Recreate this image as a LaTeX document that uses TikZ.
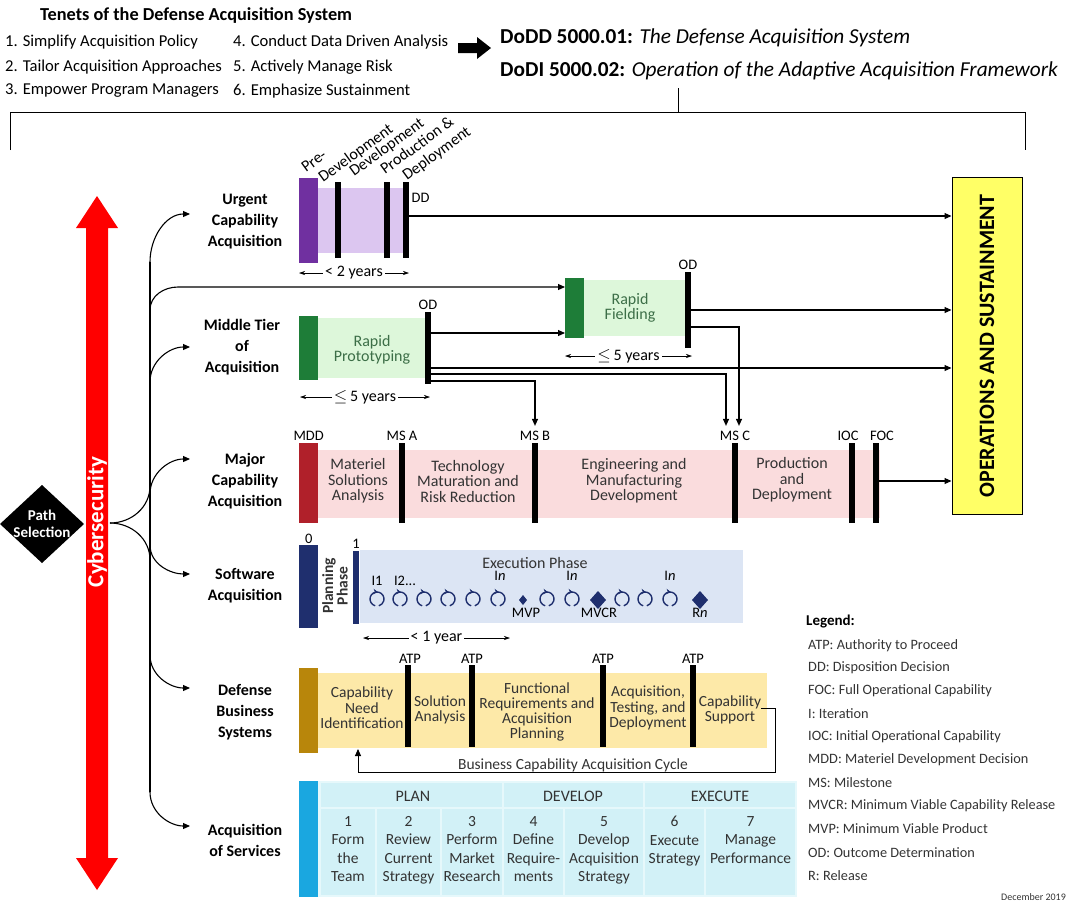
\documentclass[tikz,border=0pt]{standalone}
\usepackage{fontspec}
\setmainfont{Carlito}
\usetikzlibrary{arrows.meta,decorations.markings,positioning}
\newcommand\fsz[2]{\fontsize{#1}{#2}\selectfont}
\definecolor{ucaDark}{HTML}{7030A0}
\definecolor{ucaLight}{HTML}{DCC6F0}
\definecolor{mtaDark}{HTML}{1E7D38}
\definecolor{mtaLight}{HTML}{DDF7DA}
\definecolor{mtaText}{HTML}{3C6E47}
\definecolor{mcaDark}{HTML}{B0202A}
\definecolor{mcaLight}{HTML}{FADCDD}
\definecolor{swDark}{HTML}{1F2F6E}
\definecolor{swLight}{HTML}{DCE5F4}
\definecolor{dbsDark}{HTML}{B8860B}
\definecolor{dbsLight}{HTML}{FDE9A8}
\definecolor{svcDark}{HTML}{1AA7E0}
\definecolor{svcBack}{HTML}{E6F8FB}
\definecolor{svcCell}{HTML}{D2F1F7}
\definecolor{osYellow}{HTML}{FFFF66}
\definecolor{cyberRed}{HTML}{FF0000}
\definecolor{txtGray}{HTML}{333333}
\begin{document}
\begin{tikzpicture}[x=1pt,y=-1pt,
  conn/.style={line width=1.1pt},
  conna/.style={line width=1.1pt,-{Triangle[length=7pt,width=6pt]}},
  dimarr/.style={line width=0.6pt,{Stealth[length=6pt,width=4pt]}-{Stealth[length=6pt,width=4pt]}},
  rowlbl/.style={font=\bfseries\fsz{16}{21}, align=center, inner sep=0},
  phtext/.style={font=\fsz{16}{15.5}, align=center, inner sep=0, text=txtGray},
  mslbl/.style={font=\fsz{14.5}{14}, inner sep=0.5pt},
  msbar/.style={fill=black, minimum width=6pt, inner sep=0},
  stage/.style={inner sep=0, anchor=north west, minimum width=19pt},
  dimtxt/.style={font=\fsz{16}{16}, fill=white, inner xsep=2pt, inner ysep=0},
  slant/.style={rotate=36, anchor=base west, font=\fsz{16}{16}, inner sep=0},
  legitem/.style={anchor=west, font=\fsz{14.3}{14}, inner sep=0, text=txtGray},
  iter/.style={swDark, line width=1.4pt, postaction={decorate},
    decoration={markings, mark=at position 0.52 with {\arrow{Stealth[length=4.5pt,width=5.5pt]}}}},
]
\useasboundingbox (0,0) rectangle (1072,906);

% ---------- header ----------
\node[anchor=west, font=\bfseries\fsz{18.3}{18}, inner sep=0] (tenets) at (40,15) {Tenets of the Defense Acquisition System};
\node[anchor=west, font=\fsz{16.6}{16}, inner sep=0] (t1) at (5,42) {1. Simplify Acquisition Policy};
\node[anchor=west, font=\fsz{16.6}{16}, inner sep=0] (t2) at (5,67) {2. Tailor Acquisition Approaches};
\node[anchor=west, font=\fsz{16.6}{16}, inner sep=0] (t3) at (5,91) {3. Empower Program Managers};
\node[anchor=west, font=\fsz{16.6}{16}, inner sep=0] (t4) at (233,42) {4. Conduct Data Driven Analysis};
\node[anchor=west, font=\fsz{16.6}{16}, inner sep=0] (t5) at (233,67) {5. Actively Manage Risk};
\node[anchor=west, font=\fsz{16.6}{16}, inner sep=0] (t6) at (233,91) {6. Emphasize Sustainment};
% block arrow
\fill (458,43) -- (477,43) -- (477,37) -- (491,48) -- (477,59) -- (477,53) -- (458,53) -- cycle;
\node[anchor=west, font=\fsz{21.3}{21}, inner sep=0] (dodd) at (500,38) {\textbf{DoDD 5000.01:} \textit{The Defense Acquisition System}};
\node[anchor=west, font=\fsz{21.3}{21}, inner sep=0] (dodi) at (500,71) {\textbf{DoDI 5000.02:} \textit{Operation of the Adaptive Acquisition Framework}};
% bracket
\coordinate (brTop) at (678,88);
\coordinate (brMid) at (678,112);
\draw[line width=0.9pt] (brTop) -- (brMid);
\draw[line width=0.9pt] (10,150) -- (10,112) -- (1025,112) -- (1025,150);

% ---------- cybersecurity arrow and path selection ----------
\fill[cyberRed] (97,196) -- (118,228) -- (108,228) -- (108,858) -- (118,858) -- (97,890)
  -- (76,858) -- (86,858) -- (86,228) -- (76,228) -- cycle;
\node[rotate=90, text=white, font=\bfseries\fsz{23}{23}, inner sep=0] (cyber) at (97,522) {Cybersecurity};
\fill (0,524) -- (42,485) -- (84,524) -- (42,563) -- cycle;
\node[text=white, font=\bfseries\fsz{15}{17}, align=center, inner sep=0] (path) at (42,524) {Path\\Selection};

% ---------- row labels ----------
\node[rowlbl] (urg) at (245,222) {Urgent\\Capability\\Acquisition};
\node[rowlbl] (mta) at (242,347) {Middle Tier\\of\\Acquisition};
\node[rowlbl] (mca) at (245,481) {Major\\Capability\\Acquisition};
\node[rowlbl] (swa) at (245,586) {Software\\Acquisition};
\node[rowlbl] (dbs) at (245,712) {Defense\\Business\\Systems};
\node[rowlbl] (svc) at (245,840) {Acquisition\\of Services};

% ---------- branching tree ----------
\coordinate (fork) at (110,523);
\coordinate (aU) at (190,214);
\coordinate (aM) at (190,347);
\coordinate (aJ) at (190,459);
\coordinate (aS) at (190,574);
\coordinate (aD) at (190,688);
\coordinate (aV) at (190,826);
\draw[conn] (150,262) -- (150,792);
\draw[conna] (150,262) to[out=90,in=180] (aU);
\draw[conna] (150,382) to[out=90,in=180] (aM);
\draw[conna] (150,494) to[out=90,in=180] (aJ);
\draw[conn] (fork) to[out=0,in=-90] (150,486);
\draw[conn] (fork) to[out=0,in=90] (150,560);
\draw[conna] (150,545) to[out=-90,in=180] (aS);
\draw[conna] (150,655) to[out=-90,in=180] (aD);
\draw[conna] (150,792) to[out=-90,in=180] (aV);

% ---------- operations and sustainment ----------
\node[draw, line width=1pt, fill=osYellow, minimum width=70pt, minimum height=337pt, inner sep=0] (os) at (987,346) {};
\node[rotate=90, font=\bfseries\fsz{22}{22}, inner sep=0] (ostext) at (987,346) {OPERATIONS AND SUSTAINMENT};

% row coordinates for connectors
\coordinate (r216) at (0,216);
\coordinate (r287) at (0,287);
\coordinate (r310) at (0,310);
\coordinate (r327) at (0,327);
\coordinate (r333) at (0,333);
\coordinate (r368) at (0,368);
\coordinate (r374) at (0,374);
\coordinate (r381) at (0,381);
\coordinate (r481) at (0,481);
\coordinate (r708) at (0,708);
\coordinate (r749) at (0,749);

% ---------- urgent capability acquisition ----------
\fill[ucaLight] (318,188) rectangle (408,253);
\node[stage, fill=ucaDark, minimum height=85pt] (ucaS) at (299,178) {};
\node[msbar, minimum height=76pt] (ucaB1) at (338,220) {};
\node[msbar, minimum height=76pt] (ucaB2) at (387,220) {};
\node[msbar, minimum height=76pt] (dd) at (406,220) {};
\node[mslbl, anchor=west] (ddl) at (411,198) {DD};
\node[slant] (lp1) at (306,173) {Pre-};
\node[slant] (lp2) at (323,183) {Development};
\node[slant] (lp3) at (354,177) {Development};
\node[slant] (lp4) at (385,175) {Production \&};
\node[slant] (lp5) at (407,181) {Deployment};
\coordinate (u2a) at (299,273);
\coordinate (u2b) at (409,273);
\draw[dimarr] (u2a) -- (u2b) node[midway, dimtxt] (u2t) {< 2 years};
\draw[conna] (dd.east |- r216) -- (os.west |- r216);

% ---------- middle tier of acquisition ----------
\fill[mtaLight] (318,318) rectangle (428,378);
\node[stage, fill=mtaDark, minimum height=64pt] (rpS) at (299,316) {};
\node[msbar, minimum height=72pt] (odRP) at (428,348) {};
\node[mslbl, above=2pt of odRP] (odRPl) {OD};
\node[phtext, text=mtaText] (rpT) at (372,350) {Rapid\\Prototyping};
\fill[mtaLight] (584,280) rectangle (688,336);
\node[stage, fill=mtaDark, minimum height=60pt] (rfS) at (565,278) {};
\node[msbar, minimum height=76pt] (odRF) at (688,310) {};
\node[mslbl, above=2pt of odRF] (odRFl) {OD};
\node[phtext, text=mtaText] (rfT) at (630,308) {Rapid\\Fielding};
\coordinate (m5a) at (300,397);
\coordinate (m5b) at (430,397);
\draw[dimarr] (m5a) -- (m5b) node[midway, dimtxt] (m5t) {$\leq$\,5 years};
\coordinate (f5a) at (565,356);
\coordinate (f5b) at (692,356);
\draw[dimarr] (f5a) -- (f5b) node[midway, dimtxt] (f5t) {$\leq$\,5 years};

% ---------- major capability acquisition ----------
\fill[mcaLight] (318,450) rectangle (880,518);
\node[stage, fill=mcaDark, minimum height=80pt] (mdd) at (299,443) {};
\node[msbar, minimum height=80pt] (msA) at (402,483) {};
\node[msbar, minimum height=80pt] (msB) at (535,483) {};
\node[msbar, minimum height=80pt] (msC) at (735,483) {};
\node[msbar, minimum height=80pt] (ioc) at (852,483) {};
\node[msbar, minimum height=80pt] (foc) at (876,483) {};
\node[mslbl, above=2pt of mdd] (mddl) {MDD};
\node[mslbl, above=2pt of msA] (msAl) {MS A};
\node[mslbl, above=2pt of msB] (msBl) {MS B};
\node[mslbl, above=2pt of msC] (msCl) {MS C};
\node[mslbl, above=2pt of ioc, xshift=-4pt] (iocl) {IOC};
\node[mslbl, above=2pt of foc, xshift=6pt] (focl) {FOC};
\node[phtext] (mj1) at (358,481) {Materiel\\Solutions\\Analysis};
\node[phtext] (mj2) at (468,481) {Technology\\Maturation and\\Risk Reduction};
\node[phtext] (mj3) at (634,481) {Engineering and\\Manufacturing\\Development};
\node[phtext] (mj4) at (792,480) {Production\\and\\Deployment};
\draw[conna] (foc.east |- r481) -- (os.west |- r481);

% middle tier connectors
\draw[conna] (150,310) to[out=90,in=180] (178,287) -- (rfS.west |- r287);
\draw[conna] (odRP.east |- r333) -- (rfS.west |- r333);
\draw[conna] (odRF.east |- r310) -- (os.west |- r310);
\draw[conna] (odRP.east |- r368) -- (os.west |- r368);
\draw[conna] (odRF.east |- r327) -| ([xshift=4pt,yshift=4pt]msCl.north);
\draw[conna] (odRP.east |- r374) -| ([xshift=-9pt,yshift=4pt]msCl.north);
\draw[conna] (odRP.east |- r381) -| ([yshift=4pt]msBl.north);

% ---------- software acquisition ----------
\fill[swLight] (360,550) rectangle (743,623);
\node[stage, fill=swDark, minimum height=83pt] (swS) at (299,545) {};
\node[msbar, fill=swDark, minimum height=73pt] (sw1) at (356,587) {};
\node[mslbl, above=1pt of swS] (sw0l) {0};
\node[mslbl, above=1pt of sw1] (sw1l) {1};
\node[rotate=90, font=\bfseries\fsz{15.5}{13}, align=center, inner sep=0, text=txtGray] (plan) at (335,586) {Planning\\Phase};
\node[phtext] (exec) at (535,563) {Execution Phase};
\foreach \x [count=\i] in {377,400,424,448,473,498,547,572,622,645,670} {
  \draw[iter] (\x,599) ++(105:7) arc[start angle=105, end angle=435, radius=7];
}
\fill[swDark] (523,595) -- (527,600) -- (523,605) -- (519,600) -- cycle;
\fill[swDark] (598,591) -- (606,600) -- (598,609) -- (590,600) -- cycle;
\fill[swDark] (700,591) -- (708,600) -- (700,609) -- (692,600) -- cycle;
\node[mslbl] (i1) at (377,581) {I1};
\node[mslbl] (i2) at (405,581) {I2...};
\node[mslbl] (in1) at (500,576) {I\textit{n}};
\node[mslbl] (in2) at (572,576) {I\textit{n}};
\node[mslbl] (in3) at (670,576) {I\textit{n}};
\node[mslbl] (mvp) at (526,613) {MVP};
\node[mslbl] (mvcr) at (599,613) {MVCR};
\node[mslbl] (rn) at (700,613) {R\textit{n}};
\coordinate (s1a) at (363,638);
\coordinate (s1b) at (510,638);
\draw[dimarr] (s1a) -- (s1b) node[midway, dimtxt] (s1t) {< 1 year};

% ---------- defense business systems ----------
\fill[dbsLight] (317,673) rectangle (767,748);
\node[stage, fill=dbsDark, minimum height=85pt] (dbsS) at (299,668) {};
\node[msbar, minimum height=82pt] (atp1) at (408,706) {};
\node[msbar, minimum height=82pt] (atp2) at (472,706) {};
\node[msbar, minimum height=82pt] (atp3) at (603,706) {};
\node[msbar, minimum height=82pt] (atp4) at (693,706) {};
\node[mslbl, above=1pt of atp1, xshift=2pt] (atp1l) {ATP};
\node[mslbl, above=1pt of atp2] (atp2l) {ATP};
\node[mslbl, above=1pt of atp3] (atp3l) {ATP};
\node[mslbl, above=1pt of atp4] (atp4l) {ATP};
\node[phtext, font=\fsz{15.5}{15.5}] (db1) at (362,708) {Capability\\Need\\Identification};
\node[phtext, font=\fsz{15.5}{15.5}] (db2) at (440,710) {Solution\\Analysis};
\node[phtext, font=\fsz{15.5}{15}] (db3) at (537,712) {Functional\\Requirements and\\Acquisition\\Planning};
\node[phtext, font=\fsz{15.5}{15.5}] (db4) at (648,708) {Acquisition,\\Testing, and\\Deployment};
\node[phtext, font=\fsz{15.5}{15.5}] (db5) at (730,710) {Capability\\Support};
\coordinate (cyc1) at (775,772);
\coordinate (cyc2) at (358,772);
\draw[conna, line width=0.9pt] (db5.east |- r708) -| (cyc1) -- (cyc2) -- (cyc2 |- r749);
\node[phtext, anchor=base, font=\fsz{15.5}{15.5}] (cyct) at (573,769) {Business Capability Acquisition Cycle};

% ---------- acquisition of services ----------
\fill[svcBack] (318,781) rectangle (797,897);
\node[stage, fill=svcDark, minimum height=116pt] (svcS) at (299,781) {};
\fill[svcCell] (321,783) rectangle (502,807);
\fill[svcCell] (504,783) rectangle (643,807);
\fill[svcCell] (645,783) rectangle (795,807);
\node[phtext] (hPlan) at (413,796) {PLAN};
\node[phtext] (hDev) at (573,796) {DEVELOP};
\node[phtext] (hExe) at (720,796) {EXECUTE};
\foreach \a/\b/\t [count=\i] in {
  321/375/{1\\Form\\the\\Team},
  377/440/{2\\Review\\Current\\Strategy},
  442/502/{3\\Perform\\Market\\Research},
  504/563/{4\\Define\\Require-\\ments},
  565/643/{5\\Develop\\Acquisition\\Strategy},
  645/704/{6\\Execute\\Strategy},
  706/795/{7\\Manage\\Performance}} {
  \fill[svcCell] (\a,809) rectangle (\b,895);
  \node[phtext, anchor=north, font=\fsz{15.5}{18.5}] (svc\i) at ({(\a+\b)/2},816) {\t};
}

% ---------- legend ----------
\node[anchor=west, font=\bfseries\fsz{15}{15}, inner sep=0] (leg) at (806,621) {Legend:};
\foreach \y/\t [count=\i] in {646/{ATP: Authority to Proceed},668/{DD: Disposition Decision},
  691/{FOC: Full Operational Capability},714/{I: Iteration},737/{IOC: Initial Operational Capability},
  760/{MDD: Materiel Development Decision},783/{MS: Milestone},806/{MVCR: Minimum Viable Capability Release},
  829/{MVP: Minimum Viable Product},853/{OD: Outcome Determination},876/{R: Release}} {
  \node[legitem] (leg\i) at (808,\y) {\t};
}
\node[anchor=east, font=\fsz{10}{10}, inner sep=0, text=txtGray] (date) at (1066,897) {December 2019};
\end{tikzpicture}
\end{document}
